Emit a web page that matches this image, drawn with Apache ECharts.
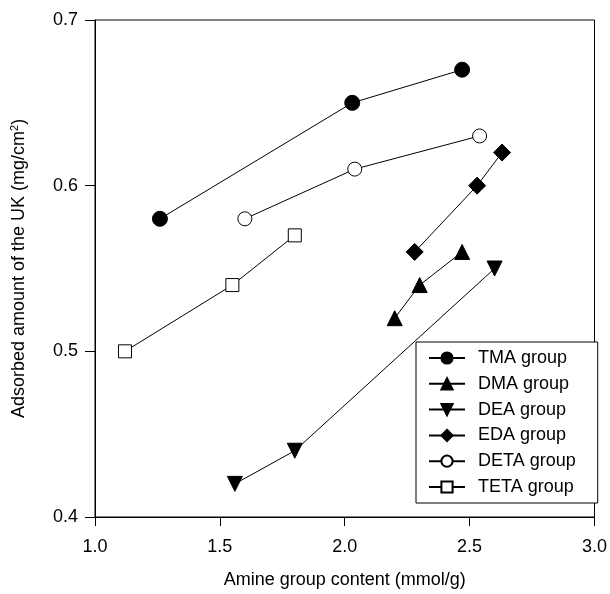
<!DOCTYPE html>
<html>
<head>
<meta charset="utf-8">
<script src="https://cdn.jsdelivr.net/npm/echarts@6/dist/echarts.min.js"></script>
<style>
	html, body {margin: 0; padding: 0; background: #fff;}
	#main {width: 610px; height: 594px;}
</style>
</head>
<body>
<div id="main"></div>
<script>
// data: [amine content, adsorbed amount]
const tmaData = [[1.26, 0.58], [2.03, 0.65], [2.47, 0.67]];
const dmaData = [[2.20, 0.52], [2.30, 0.54], [2.47, 0.56]];
const deaData = [[1.56, 0.42], [1.80, 0.44], [2.60, 0.55]];
const edaData = [[2.28, 0.56], [2.53, 0.60], [2.63, 0.62]];
const detaData = [[1.60, 0.58], [2.04, 0.61], [2.54, 0.63]];
const tetaData = [[1.12, 0.50], [1.55, 0.54], [1.80, 0.57]];

const groupNames = ['TMA group', 'DMA group', 'DEA group', 'EDA group', 'DETA group', 'TETA group'];

const font = 'Arial, "Liberation Sans", sans-serif';

let chart = echarts.init(document.getElementById('main'));

const mkSeries = (name, data, symbol, size, filled, rotate) => ({
	name: name,
	type: 'line',
	data: data,
	symbol: symbol,
	symbolSize: size,
	symbolRotate: rotate || 0,
	showAllSymbol: true,
	lineStyle: {color: '#000', width: 1},
	itemStyle: {
		color: filled ? '#000' : '#fff',
		borderColor: '#000',
		borderWidth: 1
	},
	emphasis: {disabled: true},
	z: 3
});

let option = {
	animation: false,
	backgroundColor: '#fff',
	textStyle: {fontFamily: font},
	grid: {
		left: 95,
		right: 13,
		top: 20,
		bottom: 75,
		show: true,
		borderColor: '#000',
		borderWidth: 1,
		backgroundColor: 'transparent'
	},
	legend: {
		orient: 'vertical',
		left: 416,
		top: 342,
		padding: [7, 22, 7, 12],
		itemGap: 7.8,
		itemWidth: 36,
		itemHeight: 14,
		backgroundColor: '#fff',
		borderColor: '#000',
		borderWidth: 1,
		borderRadius: 0,
		textStyle: {fontSize: 18, lineHeight: 18, color: '#000', fontFamily: font, padding: [0, 0, 0, 8]},
		data: groupNames
	},
	xAxis: {
		type: 'value',
		min: 1.0,
		max: 3.0,
		interval: 0.5,
		name: 'Amine group content (mmol/g)',
		nameLocation: 'middle',
		nameGap: 54,
		nameTextStyle: {fontSize: 18, color: '#000', fontFamily: font},
		axisLine: {show: true, onZero: false, lineStyle: {color: '#000', width: 1}},
		axisTick: {show: true, length: 9, lineStyle: {color: '#000'}},
		axisLabel: {
			fontSize: 18, color: '#000', margin: 21, fontFamily: font,
			formatter: v => v.toFixed(1)
		},
		splitLine: {show: false}
	},
	yAxis: {
		type: 'value',
		min: 0.4,
		max: 0.7,
		interval: 0.1,
		name: 'Adsorbed amount of the UK (mg/cm{sup|2})',
		nameLocation: 'middle',
		nameGap: 66,
		nameTextStyle: {
			fontSize: 18, color: '#000', fontFamily: font,
			rich: {sup: {fontSize: 11, verticalAlign: 'bottom', padding: [0, 0, 9, 0], color: '#000'}}
		},
		axisLine: {show: true, onZero: false, lineStyle: {color: '#000', width: 1}},
		axisTick: {show: true, length: 10, lineStyle: {color: '#000'}},
		axisLabel: {
			fontSize: 18, color: '#000', margin: 17, fontFamily: font,
			formatter: v => v.toFixed(1)
		},
		splitLine: {show: false}
	},
	series: [
		mkSeries(groupNames[0], tmaData, 'circle', 15, true),
		mkSeries(groupNames[1], dmaData, 'triangle', 15, true),
		mkSeries(groupNames[2], deaData, 'triangle', 15, true, 180),
		mkSeries(groupNames[3], edaData, 'diamond', 17, true),
		mkSeries(groupNames[4], detaData, 'circle', 14, false),
		mkSeries(groupNames[5], tetaData, 'rect', 13, false)
	]
};

chart.setOption(option);
</script>
</body>
</html>
